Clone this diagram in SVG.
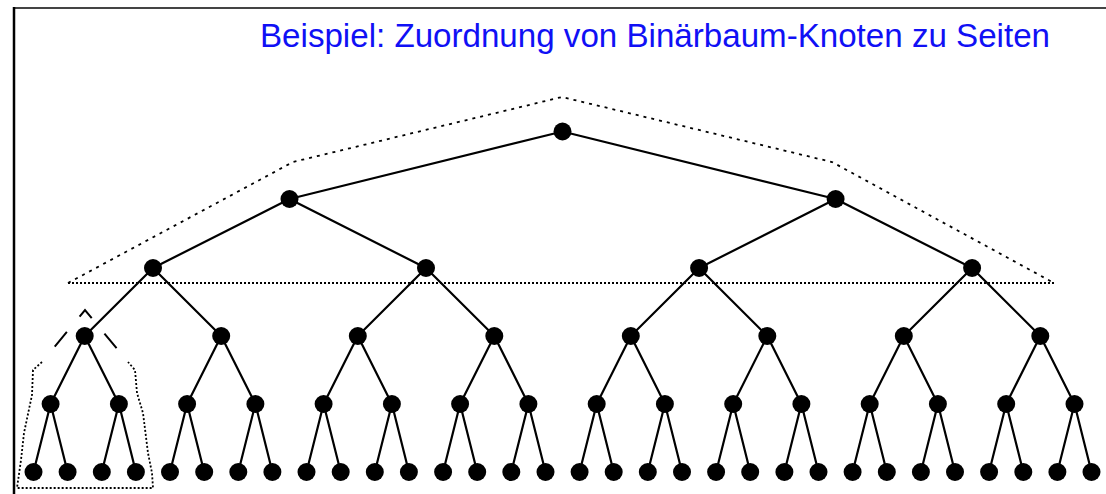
<svg xmlns="http://www.w3.org/2000/svg" width="1106" height="494" viewBox="0 0 1106 494">
<style>
.e{stroke:#000;stroke-width:2.2;fill:none}
.n{fill:#000}
.dl{stroke:#000;stroke-width:1.8;fill:none;stroke-dasharray:3 5}
.dd{stroke:#000;stroke-width:1.8;fill:none;stroke-dasharray:2 2}
.dk{stroke:#000;stroke-width:2;fill:none;stroke-dasharray:19 20;stroke-dashoffset:19}
.t{font-family:"Liberation Sans",Arial,sans-serif;font-size:34px;fill:#1010f5}
</style>
<rect width="1106" height="494" fill="#fff"/>
<g id="frame">
<line x1="13" y1="8" x2="1106" y2="8" stroke="#444" stroke-width="2"/>
<line x1="14" y1="7" x2="14" y2="494" stroke="#000" stroke-width="2.5"/>
</g>
<text id="title" class="t" x="260" y="47" textLength="790" lengthAdjust="spacingAndGlyphs">Beispiel: Zuordnung von Binärbaum-Knoten zu Seiten</text>
<g id="pages">
<path class="dl" d="M68,283 L293,162 L562,97 L832,162 L1054,283"/>
<line class="dd" x1="68" y1="283" x2="1054" y2="283"/>
<path class="dk" d="M42,362 L85,310 L128,362"/>
<path class="dd" d="M42,362 L33,370 L32,395 L24,433 L21,460 L17,488 L153,488 L152,473 L148,453 L143,413 L137,393 L135,370 L128,362"/>
</g>
<g id="connectors" class="e">
<path d="M562.5,131.5 L289.5,199 M562.5,131.5 L835.6,199"/>
<path d="M289.5,199 L153,268 M289.5,199 L426,268 M835.6,199 L699.1,268 M835.6,199 L972.1,268"/>
<path d="M153,268 L84.7,336 M153,268 L221.2,336 M426,268 L357.8,336 M426,268 L494.3,336 M699.1,268 L630.8,336 M699.1,268 L767.3,336 M972.1,268 L903.8,336 M972.1,268 L1040.3,336"/>
<path d="M84.7,336 L50.6,404 M84.7,336 L118.9,404 M221.2,336 L187.1,404 M221.2,336 L255.4,404 M357.8,336 L323.6,404 M357.8,336 L391.9,404 M494.3,336 L460.1,404 M494.3,336 L528.4,404 M630.8,336 L596.7,404 M630.8,336 L664.9,404 M767.3,336 L733.2,404 M767.3,336 L801.4,404 M903.8,336 L869.7,404 M903.8,336 L937.9,404 M1040.3,336 L1006.2,404 M1040.3,336 L1074.5,404"/>
<path d="M50.6,404 L33.5,472 M50.6,404 L67.6,472 M118.9,404 L101.8,472 M118.9,404 L135.9,472 M187.1,404 L170,472 M187.1,404 L204.2,472 M255.4,404 L238.3,472 M255.4,404 L272.4,472 M323.6,404 L306.5,472 M323.6,404 L340.7,472 M391.9,404 L374.8,472 M391.9,404 L408.9,472 M460.1,404 L443.1,472 M460.1,404 L477.2,472 M528.4,404 L511.3,472 M528.4,404 L545.5,472 M596.7,404 L579.6,472 M596.7,404 L613.7,472 M664.9,404 L647.8,472 M664.9,404 L682,472 M733.2,404 L716.1,472 M733.2,404 L750.2,472 M801.4,404 L784.4,472 M801.4,404 L818.5,472 M869.7,404 L852.6,472 M869.7,404 L886.8,472 M937.9,404 L920.9,472 M937.9,404 L955,472 M1006.2,404 L989.1,472 M1006.2,404 L1023.3,472 M1074.5,404 L1057.4,472 M1074.5,404 L1091.5,472"/>
</g>
<g id="n0"><circle class="n" cx="562.5" cy="131.5" r="9"/></g>
<g id="n1a"><circle class="n" cx="289.5" cy="199" r="9"/></g>
<g id="n1b"><circle class="n" cx="835.6" cy="199" r="9"/></g>
<g id="n2a"><circle class="n" cx="153" cy="268" r="9"/></g>
<g id="n2b"><circle class="n" cx="426" cy="268" r="9"/></g>
<g id="n2c"><circle class="n" cx="699.1" cy="268" r="9"/></g>
<g id="n2d"><circle class="n" cx="972.1" cy="268" r="9"/></g>
<g id="n3a"><circle class="n" cx="84.7" cy="336" r="9"/></g>
<g id="n3b"><circle class="n" cx="221.2" cy="336" r="9"/></g>
<g id="n3c"><circle class="n" cx="357.8" cy="336" r="9"/></g>
<g id="n3d"><circle class="n" cx="494.3" cy="336" r="9"/></g>
<g id="n3e"><circle class="n" cx="630.8" cy="336" r="9"/></g>
<g id="n3f"><circle class="n" cx="767.3" cy="336" r="9"/></g>
<g id="n3g"><circle class="n" cx="903.8" cy="336" r="9"/></g>
<g id="n3h"><circle class="n" cx="1040.3" cy="336" r="9"/></g>
<g id="n4a"><circle class="n" cx="50.6" cy="404" r="9"/></g>
<g id="n4b"><circle class="n" cx="118.9" cy="404" r="9"/></g>
<g id="n4c"><circle class="n" cx="187.1" cy="404" r="9"/></g>
<g id="n4d"><circle class="n" cx="255.4" cy="404" r="9"/></g>
<g id="n4e"><circle class="n" cx="323.6" cy="404" r="9"/></g>
<g id="n4f"><circle class="n" cx="391.9" cy="404" r="9"/></g>
<g id="n4g"><circle class="n" cx="460.1" cy="404" r="9"/></g>
<g id="n4h"><circle class="n" cx="528.4" cy="404" r="9"/></g>
<g id="n4i"><circle class="n" cx="596.7" cy="404" r="9"/></g>
<g id="n4j"><circle class="n" cx="664.9" cy="404" r="9"/></g>
<g id="n4k"><circle class="n" cx="733.2" cy="404" r="9"/></g>
<g id="n4l"><circle class="n" cx="801.4" cy="404" r="9"/></g>
<g id="n4m"><circle class="n" cx="869.7" cy="404" r="9"/></g>
<g id="n4n"><circle class="n" cx="937.9" cy="404" r="9"/></g>
<g id="n4o"><circle class="n" cx="1006.2" cy="404" r="9"/></g>
<g id="n4p"><circle class="n" cx="1074.5" cy="404" r="9"/></g>
<g id="l0"><circle class="n" cx="33.5" cy="472" r="9"/></g>
<g id="l1"><circle class="n" cx="67.6" cy="472" r="9"/></g>
<g id="l2"><circle class="n" cx="101.8" cy="472" r="9"/></g>
<g id="l3"><circle class="n" cx="135.9" cy="472" r="9"/></g>
<g id="l4"><circle class="n" cx="170" cy="472" r="9"/></g>
<g id="l5"><circle class="n" cx="204.2" cy="472" r="9"/></g>
<g id="l6"><circle class="n" cx="238.3" cy="472" r="9"/></g>
<g id="l7"><circle class="n" cx="272.4" cy="472" r="9"/></g>
<g id="l8"><circle class="n" cx="306.5" cy="472" r="9"/></g>
<g id="l9"><circle class="n" cx="340.7" cy="472" r="9"/></g>
<g id="l10"><circle class="n" cx="374.8" cy="472" r="9"/></g>
<g id="l11"><circle class="n" cx="408.9" cy="472" r="9"/></g>
<g id="l12"><circle class="n" cx="443.1" cy="472" r="9"/></g>
<g id="l13"><circle class="n" cx="477.2" cy="472" r="9"/></g>
<g id="l14"><circle class="n" cx="511.3" cy="472" r="9"/></g>
<g id="l15"><circle class="n" cx="545.5" cy="472" r="9"/></g>
<g id="l16"><circle class="n" cx="579.6" cy="472" r="9"/></g>
<g id="l17"><circle class="n" cx="613.7" cy="472" r="9"/></g>
<g id="l18"><circle class="n" cx="647.8" cy="472" r="9"/></g>
<g id="l19"><circle class="n" cx="682" cy="472" r="9"/></g>
<g id="l20"><circle class="n" cx="716.1" cy="472" r="9"/></g>
<g id="l21"><circle class="n" cx="750.2" cy="472" r="9"/></g>
<g id="l22"><circle class="n" cx="784.4" cy="472" r="9"/></g>
<g id="l23"><circle class="n" cx="818.5" cy="472" r="9"/></g>
<g id="l24"><circle class="n" cx="852.6" cy="472" r="9"/></g>
<g id="l25"><circle class="n" cx="886.8" cy="472" r="9"/></g>
<g id="l26"><circle class="n" cx="920.9" cy="472" r="9"/></g>
<g id="l27"><circle class="n" cx="955" cy="472" r="9"/></g>
<g id="l28"><circle class="n" cx="989.1" cy="472" r="9"/></g>
<g id="l29"><circle class="n" cx="1023.3" cy="472" r="9"/></g>
<g id="l30"><circle class="n" cx="1057.4" cy="472" r="9"/></g>
<g id="l31"><circle class="n" cx="1091.5" cy="472" r="9"/></g>
</svg>
